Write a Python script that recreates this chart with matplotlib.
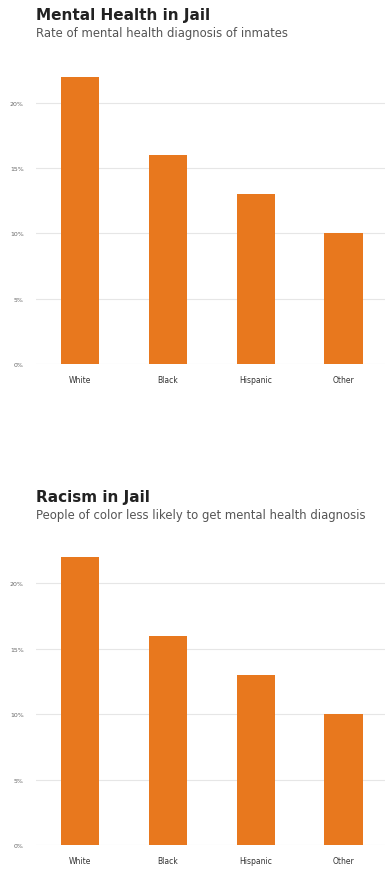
import matplotlib.pyplot as plt

# data
groups = ["White", "Black", "Hispanic", "Other"]
rates_1 = [22, 16, 13, 10]
rates_2 = [22, 16, 13, 10]
yticks = [0, 5, 10, 15, 20]
ytick_labels = ["0%", "5%", "10%", "15%", "20%"]

titles = ["Mental Health in Jail", "Racism in Jail"]
subtitles = ["Rate of mental health diagnosis of inmates",
             "People of color less likely to get mental health diagnosis"]

bar_color = "#E8781E"

fig = plt.figure(figsize=(3.85, 8.7), dpi=100)

# [left, bottom, width, height] in figure fractions
boxes = [[0.094, 0.5805, 0.906, 0.333],
         [0.094, 0.0276, 0.906, 0.334]]
title_y = [0.982, 0.428]

for i, data in enumerate([rates_1, rates_2]):
    ax = fig.add_axes(boxes[i])
    ax.bar(range(len(groups)), data, width=0.44, color=bar_color, zorder=3)
    ax.set_xlim(-0.5, 3.47)
    ax.set_ylim(0, 22.2)
    ax.set_yticks(yticks)
    ax.set_yticklabels(ytick_labels, fontsize=4.5, color="#666666")
    ax.set_xticks(range(len(groups)))
    ax.set_xticklabels(groups, fontsize=5.5, color="#333333")
    ax.grid(axis="y", color="#e6e6e6", linewidth=0.8, zorder=0)
    ax.tick_params(length=0, pad=8)
    ax.tick_params(axis="y", pad=9)
    for s in ax.spines.values():
        s.set_visible(False)

    fig.text(0.094, title_y[i], titles[i], fontsize=11, fontweight="bold",
             color="#222222", va="center", ha="left")
    fig.text(0.094, title_y[i] - 0.021, subtitles[i], fontsize=8.4,
             color="#555555", va="center", ha="left")

fig.savefig("out.png", dpi=100)
